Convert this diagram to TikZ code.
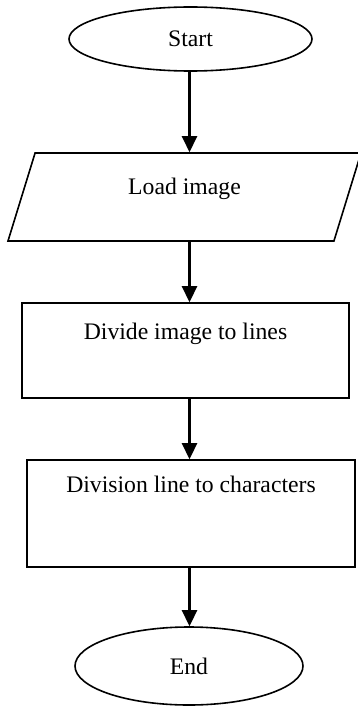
\documentclass[tikz,border=0pt]{standalone}
\usepackage{fontspec}
\setmainfont{Liberation Serif}
\usetikzlibrary{shapes.geometric,arrows.meta}

\tikzset{
  every node/.style={font=\fontsize{23.7}{28}\selectfont, inner sep=0pt, line width=1.6pt},
  term/.style={draw, ellipse},
  iobox/.style={draw, trapezium, trapezium left angle=72.9, trapezium right angle=107.1,
                trapezium stretches body},
  procbox/.style={draw, rectangle},
  flow/.style={line width=2.6pt, -{Triangle[length=16pt,width=15pt]}}
}

\begin{document}
\begin{tikzpicture}[x=1pt,y=-1pt]
  \useasboundingbox (0,0) rectangle (358,706);

  % vertical axis shared by all connectors
  \coordinate (axis) at (189.5,0);

  \node[term, minimum width=243, minimum height=64] (start) at (190.5,39) {Start};

  \node[iobox, minimum width=353, minimum height=88, text height=41.5pt, text depth=46.5pt]
       (load) at (184.5,197) {Load image};

  \node[procbox, minimum width=327, minimum height=95, text height=36.5pt, text depth=58.5pt]
       (divide) at (185.5,350.5) {Divide image to lines};

  \node[procbox, minimum width=328, minimum height=107, text height=32.5pt, text depth=74.5pt]
       (chars) at (191,513.5) {Division line to characters};

  \node[term, minimum width=228, minimum height=78] (end) at (189,666) {End};

  \draw[flow] (start.south -| axis) -- (load.north -| axis);
  \draw[flow] (load.south -| axis) -- (divide.north -| axis);
  \draw[flow] (divide.south -| axis) -- (chars.north -| axis);
  \draw[flow] (chars.south -| axis) -- (end.north -| axis);
\end{tikzpicture}
\end{document}
